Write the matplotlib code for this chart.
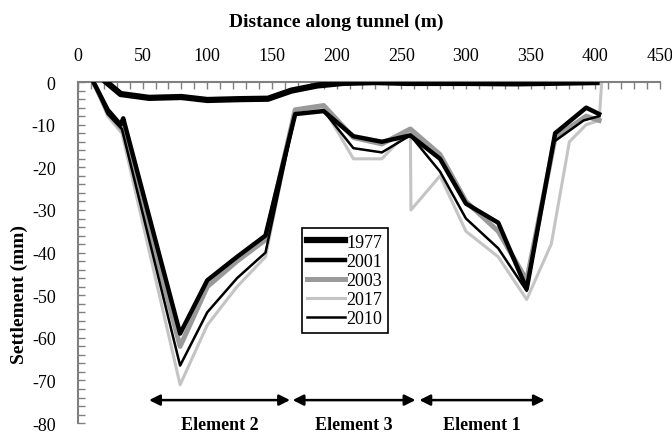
import matplotlib
matplotlib.use('Agg')
import matplotlib.pyplot as plt
import matplotlib.ticker as ticker

plt.rcParams['font.family'] = ['Liberation Serif', 'DejaVu Serif']
plt.rcParams['axes.unicode_minus'] = False

# distance along tunnel (m) and settlement (mm) per survey year
x_1977 = [22, 33, 55, 80, 100, 125, 147, 165, 185, 205, 230, 255, 300, 340, 360, 401]
y_1977 = [0, -2.8, -3.7, -3.5, -4.2, -4.0, -3.9, -2.0, -0.8, -0.2, 0, -0.2, -0.2, -0.3, -0.2, 0]

x_2001 = [12, 23, 33, 35, 79, 100, 123, 145, 168, 190, 213, 235, 257, 280, 300, 325, 347, 369, 393, 403]
y_2001 = [0, -6.5, -10, -8.5, -59, -46.5, -41, -36, -7.5, -6.8, -12.7, -14, -12.5, -18, -28.5, -33, -48.5, -12, -6, -7.5]

x_2003 = [12, 23, 34, 36, 79, 100, 123, 145, 168, 190, 213, 235, 257, 280, 300, 325, 347, 369, 393, 403]
y_2003 = [0, -7, -11, -12, -62, -48, -42, -37, -6.5, -5.5, -13, -14.5, -11, -17, -28, -35, -46.5, -13, -8, -9]

x_2017 = [12, 23, 34, 79, 100, 123, 145, 168, 190, 213, 235, 257, 257.5, 280, 300, 325, 347, 366, 380, 393, 403, 405]
y_2017 = [0, -8, -12, -71, -57, -48, -41, -6.5, -6, -18, -18, -11, -30, -22, -35, -41, -51, -38, -14, -10, -9, 0]

x_2010 = [12, 23, 34, 79, 100, 123, 145, 168, 190, 213, 235, 257, 280, 300, 325, 347, 368, 391, 403]
y_2010 = [0, -7.5, -11, -66.5, -54, -46, -40, -7.5, -6.8, -15.5, -16.5, -12.5, -21, -32, -39, -49, -14, -9, -8]

elements = ['Element 2', 'Element 3', 'Element 1']
elem_start = [55, 166, 264]
elem_end = [164, 261, 361]

fig = plt.figure(figsize=(6.72, 4.35), dpi=100)
ax = fig.add_axes([0.116, 0.025, 0.866, 0.784])

ax.plot(x_1977, y_1977, color='black', lw=4.5, label='1977', zorder=6)
ax.plot(x_2001, y_2001, color='black', lw=3.2, label='2001', zorder=5)
ax.plot(x_2003, y_2003, color='#9a9a9a', lw=3.6, label='2003', zorder=3)
ax.plot(x_2017, y_2017, color='#c4c4c4', lw=2.2, label='2017', zorder=2)
ax.plot(x_2010, y_2010, color='black', lw=1.8, label='2010', zorder=4)

ax.set_xlim(0, 450)
ax.set_ylim(-80, 0)
ax.xaxis.tick_top()
ax.xaxis.set_major_locator(ticker.MultipleLocator(50))
ax.xaxis.set_minor_locator(ticker.MultipleLocator(10))
ax.yaxis.set_major_locator(ticker.MultipleLocator(10))
ax.yaxis.set_minor_locator(ticker.MultipleLocator(2))
ax.tick_params(which='both', direction='in', color='#808080', width=1, length=5, labelsize=13)
ax.tick_params(axis='x', pad=13)
ax.tick_params(axis='y', pad=16)

for s in ['bottom', 'right']:
    ax.spines[s].set_visible(False)
for s in ['top', 'left']:
    ax.spines[s].set_color('#808080')
    ax.spines[s].set_linewidth(1.5)

fig.text(0.5, 1 - 22 / 435, 'Distance along tunnel (m)', ha='center', va='center',
         fontsize=14, fontweight='bold')
ax.set_ylabel('Settlement (mm)', fontsize=14, fontweight='bold')
ax.yaxis.set_label_coords(-0.085, 0.38)

for name, a, b in zip(elements, elem_start, elem_end):
    ax.annotate('', xy=(a, -74.6), xytext=(b, -74.6),
                arrowprops=dict(arrowstyle='<|-|>', color='black', lw=1.8,
                                mutation_scale=16, shrinkA=0, shrinkB=0))
    ax.text((a + b) / 2, -80.3, name, ha='center', va='center',
            fontsize=13, fontweight='bold')

leg = ax.legend(loc='upper left', bbox_to_anchor=(0.385, 0.571), fontsize=13,
                fancybox=False, framealpha=1, edgecolor='black',
                handlelength=2.1, handletextpad=0.05, labelspacing=0.12,
                borderpad=0.3, borderaxespad=0)
leg.get_frame().set_linewidth(1.2)

fig.savefig('out.png', dpi=100)
